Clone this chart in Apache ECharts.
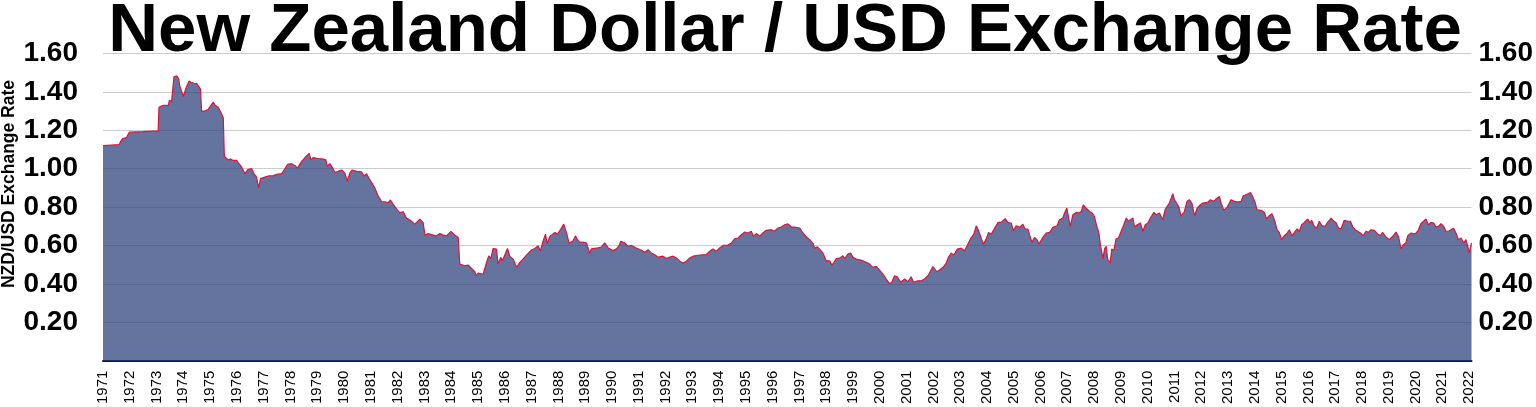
<!DOCTYPE html>
<html>
<head>
<meta charset="utf-8">
<script src="https://cdn.jsdelivr.net/npm/echarts@6/dist/echarts.min.js"></script>
<style>
html,body{margin:0;padding:0;background:#fff;}
#chart{width:1536px;height:407px;}
</style>
</head>
<body>
<div id="chart"></div>
<script>
// Time in decimal years (as placed on the reference's year axis) and NZD/USD rate
const times = [
1971.00,1971.61,1971.66,1971.73,1971.88,1971.98,1972.50,1973.06,1973.09,1973.25,1973.31,1973.44,1973.48,1973.56,1973.62,1973.65,1973.75,1973.82,1973.87,1974.00,
1974.10,1974.21,1974.31,1974.41,1974.50,1974.54,1974.64,1974.68,1974.81,1974.93,1975.03,1975.12,1975.18,1975.30,1975.40,1975.49,1975.53,1975.68,1975.76,1975.86,
1975.99,1976.05,1976.17,1976.30,1976.40,1976.55,1976.65,1976.73,1976.81,1976.88,1977.04,1977.17,1977.36,1977.48,1977.67,1977.77,1977.89,1978.04,1978.16,1978.26,
1978.41,1978.54,1978.60,1978.70,1978.76,1978.85,1979.03,1979.22,1979.32,1979.37,1979.47,1979.59,
1979.66,1979.78,1979.91,1980.03,1980.12,1980.22,1980.30,1980.47,1980.65,1980.75,1980.84,1980.90,1981.03,1981.15,1981.27,1981.40,1981.52,1981.65,1981.73,1981.83,
1981.96,1982.08,1982.21,1982.33,1982.46,1982.64,1982.83,1982.95,1983.02,1983.14,1983.33,1983.45,1983.58,1983.70,1983.82,1983.99,1984.13,1984.26,1984.32,1984.51,
1984.63,1984.76,1984.88,1984.94,1985.00,1985.19,1985.32,1985.40,1985.48,1985.56,1985.69,1985.75,1985.85,1985.91,1986.00,1986.10,1986.19,1986.31,1986.44,1986.56,
1986.68,1986.81,1986.99,1987.12,1987.24,1987.33,1987.43,1987.52,1987.58,1987.68,1987.87,1987.97,1988.09,1988.20,1988.30,1988.40,1988.55,1988.64,
1988.71,1988.80,1988.92,1989.05,1989.13,1989.17,1989.23,1989.30,1989.48,1989.61,1989.73,1989.86,1990.04,1990.17,1990.27,1990.33,1990.48,1990.60,1990.73,1990.79,
1990.91,1991.10,1991.22,1991.35,1991.47,1991.60,1991.72,1991.91,1992.03,1992.16,1992.28,1992.41,1992.53,1992.65,1992.78,1992.90,1993.03,1993.21,1993.40,1993.52,
1993.65,1993.77,1993.90,1994.02,1994.15,1994.33,1994.46,1994.58,1994.71,1994.83,1994.96,1995.08,1995.20,1995.29,1995.39,1995.52,1995.64,1995.76,1995.95,1996.07,
1996.20,1996.32,1996.45,1996.57,1996.70,1996.82,1997.01,1997.13,1997.26,1997.38,1997.51,1997.57,
1997.67,1997.75,1997.88,1998.00,1998.13,1998.21,1998.29,1998.38,1998.50,1998.62,1998.69,1998.81,1998.91,1999.00,1999.12,1999.25,1999.37,1999.49,1999.62,1999.74,
1999.87,1999.99,2000.12,2000.24,2000.37,2000.45,2000.55,2000.65,2000.78,2000.93,2001.05,2001.17,2001.26,2001.42,2001.55,2001.67,2001.80,2001.88,2001.98,2002.04,
2002.13,2002.23,2002.36,2002.48,2002.57,2002.67,2002.77,2002.89,2003.04,2003.16,2003.26,2003.39,2003.51,2003.60,2003.69,2003.79,2003.87,2003.97,2004.06,2004.16,
2004.28,2004.41,2004.53,2004.68,2004.78,2004.91,2004.99,2005.09,2005.22,2005.34,2005.43,2005.53,2005.68,2005.78,2005.88,2005.94,2006.09,2006.21,2006.34,2006.46,
2006.52,2006.62,2006.71,2006.83,2006.90,2006.98,2007.04,2007.11,2007.21,2007.33,2007.42,2007.52,2007.60,2007.70,2007.83,2007.93,2008.01,2008.10,2008.18,2008.24,
2008.33,2008.39,2008.45,2008.51,2008.60,2008.66,2008.74,2008.82,2008.91,2009.01,2009.11,2009.20,2009.28,2009.36,2009.45,2009.51,2009.61,2009.73,2009.82,2009.91,
2010.01,2010.10,2010.23,2010.32,2010.44,2010.56,2010.66,2010.81,2010.88,2010.94,2011.00,2011.06,2011.16,2011.25,2011.37,2011.47,2011.56,2011.65,2011.75,2011.85,
2011.97,2012.06,2012.12,2012.24,2012.34,2012.47,2012.55,2012.68,2012.74,2012.84,2012.97,2013.05,2013.11,2013.24,2013.36,2013.49,2013.57,2013.67,2013.74,2013.84,
2013.92,2014.02,2014.08,2014.23,2014.36,2014.44,2014.54,2014.64,2014.73,2014.83,2014.92,2015.00,2015.10,2015.19,2015.29,2015.38,2015.48,
2015.58,2015.66,2015.75,2015.85,2015.98,2016.06,2016.12,2016.22,2016.31,2016.41,2016.50,2016.62,2016.72,2016.85,2016.95,2017.03,2017.13,2017.22,2017.34,2017.47,
2017.57,2017.66,2017.74,2017.84,2017.94,2018.05,2018.15,2018.24,2018.34,2018.46,2018.59,2018.69,2018.77,2018.90,2019.02,2019.15,2019.27,2019.36,2019.46,2019.54,
2019.64,2019.71,2019.83,2019.93,2020.02,2020.10,2020.20,2020.30,2020.39,2020.48,2020.58,2020.68,2020.76,2020.86,2020.95,2021.05,2021.14,2021.24,2021.32,2021.42,
2021.51,2021.60,2021.70,2021.80,2021.88,2021.95,2022.01,2022.09
];
const rates = [
1.120,1.126,1.143,1.157,1.162,1.190,1.193,1.197,1.320,1.330,1.322,1.330,1.357,1.348,1.354,1.479,1.484,1.470,1.430,1.376,
1.420,1.456,1.448,1.445,1.443,1.446,1.414,1.300,1.300,1.310,1.330,1.347,1.330,1.320,1.294,1.265,1.063,1.046,1.050,1.043,
1.043,1.030,1.010,0.973,0.995,1.000,0.970,0.957,0.900,0.948,0.956,0.962,0.964,0.970,0.974,0.995,1.022,1.026,1.017,1.003,
1.037,1.058,1.063,1.080,1.046,1.058,1.053,1.050,1.046,1.012,1.026,1.000,
0.980,0.986,0.993,0.976,0.936,0.979,0.993,0.986,0.983,0.962,0.974,0.957,0.927,0.900,0.858,0.829,0.827,0.823,0.837,0.815,
0.789,0.771,0.775,0.742,0.733,0.711,0.737,0.720,0.654,0.662,0.654,0.650,0.662,0.654,0.650,0.673,0.654,0.642,0.503,0.494,
0.498,0.480,0.463,0.442,0.456,0.450,0.511,0.546,0.532,0.584,0.581,0.503,0.538,0.520,0.550,0.584,0.543,0.529,0.486,0.512,
0.529,0.550,0.576,0.584,0.598,0.572,0.624,0.659,0.610,0.647,0.668,0.659,0.685,0.711,0.668,0.612,0.624,0.650,
0.630,0.616,0.618,0.613,0.578,0.558,0.582,0.587,0.587,0.592,0.613,0.587,0.573,0.582,0.600,0.622,0.613,0.596,0.600,0.604,
0.587,0.575,0.565,0.578,0.561,0.552,0.539,0.544,0.532,0.540,0.544,0.535,0.518,0.509,0.518,0.535,0.544,0.549,0.551,0.552,
0.570,0.582,0.570,0.587,0.600,0.602,0.613,0.634,0.639,0.656,0.670,0.665,0.674,0.648,0.662,0.648,0.665,0.679,0.682,0.674,
0.691,0.696,0.708,0.712,0.696,0.696,0.691,0.665,0.644,0.630,0.610,0.585,
0.593,0.581,0.560,0.520,0.520,0.498,0.512,0.532,0.534,0.546,0.532,0.555,0.560,0.538,0.529,0.525,0.520,0.512,0.503,0.486,
0.491,0.472,0.451,0.425,0.400,0.408,0.442,0.437,0.408,0.425,0.411,0.437,0.408,0.416,0.416,0.425,0.442,0.463,0.490,0.486,
0.463,0.472,0.486,0.508,0.541,0.560,0.550,0.581,0.586,0.572,0.598,0.636,0.659,0.702,0.676,0.636,0.607,0.633,0.668,0.659,
0.688,0.720,0.720,0.740,0.720,0.715,0.676,0.702,0.694,0.711,0.685,0.685,0.616,0.642,0.628,0.607,0.642,0.664,0.668,0.694,
0.700,0.703,0.734,0.743,0.769,0.795,0.752,0.700,0.760,0.772,0.769,0.777,0.812,0.795,0.777,0.769,0.752,0.700,0.665,0.600,
0.530,0.582,0.596,0.526,0.509,0.582,0.574,0.634,0.639,0.674,0.708,0.743,0.726,0.734,0.743,0.696,0.708,0.717,0.674,0.708,
0.717,0.743,0.772,0.760,0.769,0.734,0.790,0.821,0.830,0.870,0.838,0.847,0.803,0.752,0.777,0.830,0.838,0.821,0.755,0.795,
0.812,0.821,0.826,0.824,0.838,0.830,0.842,0.855,0.821,0.783,0.800,0.821,0.838,0.830,0.826,0.830,0.859,0.864,0.855,0.876,
0.855,0.821,0.786,0.783,0.772,0.738,0.755,0.765,0.734,0.682,0.665,0.630,0.651,0.661,0.682,0.651,0.668,
0.686,0.674,0.708,0.720,0.738,0.717,0.731,0.700,0.690,0.726,0.703,0.700,0.720,0.743,0.726,0.720,0.690,0.686,0.731,0.726,
0.726,0.696,0.682,0.674,0.665,0.651,0.674,0.668,0.682,0.679,0.660,0.651,0.668,0.644,0.630,0.648,0.670,0.648,0.582,0.604,
0.613,0.651,0.665,0.660,0.665,0.679,0.713,0.726,0.738,0.708,0.720,0.717,0.696,0.700,0.713,0.700,0.674,0.674,0.682,0.690,
0.665,0.630,0.639,0.613,0.630,0.596,0.561,0.613
];
const yTicks = [0.2, 0.4, 0.6, 0.8, 1.0, 1.2, 1.4, 1.6];
const titleText = 'New Zealand Dollar / USD Exchange Rate';
const yAxisTitle = 'NZD/USD Exchange Rate';

const seriesData = times.map((t, i) => [t, rates[i]]);
const FONT = '"Liberation Sans", Arial, Helvetica, sans-serif';

const yLabelFmt = v => (yTicks.some(t => Math.abs(t - v) < 1e-6) ? v.toFixed(2) : '');

const chart = echarts.init(document.getElementById('chart'), null, {renderer: 'canvas'});
chart.setOption({
  animation: false,
  backgroundColor: '#ffffff',
  grid: {left: 103, right: 64, top: 53.5, bottom: 45.5, containLabel: false},
  graphic: [
    {type: 'text', x: 785, y: 32, z: 100,
     style: {text: titleText, font: 'bold 69px ' + FONT, fill: '#000', textAlign: 'center', textVerticalAlign: 'middle'}},
    {type: 'text', x: 9, y: 184, rotation: Math.PI / 2, z: 100,
     style: {text: yAxisTitle, font: 'bold 17.5px ' + FONT, fill: '#000', textAlign: 'center', textVerticalAlign: 'middle'}}
  ],
  xAxis: {
    type: 'value', min: 1971, max: 2022.09, interval: 1,
    axisLine: {show: true, onZero: false, lineStyle: {color: '#0d1a45', width: 2}},
    axisTick: {show: false},
    splitLine: {show: false},
    axisLabel: {
      rotate: 90, margin: 10, fontFamily: FONT, fontSize: 15, color: '#000',
      showMaxLabel: false,
      formatter: v => (Math.abs(v - Math.round(v)) < 1e-6 ? String(Math.round(v)) : '')
    }
  },
  yAxis: [
    {type: 'value', min: 0, max: 1.6, interval: 0.2, position: 'left',
     axisLine: {show: false}, axisTick: {show: false},
     splitLine: {show: true, lineStyle: {color: '#cccccc', width: 1}},
     axisLabel: {margin: 25, fontFamily: FONT, fontSize: 28, fontWeight: 'bold', color: '#000', formatter: yLabelFmt}},
    {type: 'value', min: 0, max: 1.6, interval: 0.2, position: 'right',
     axisLine: {show: false}, axisTick: {show: false},
     splitLine: {show: false},
     axisLabel: {margin: 7, fontFamily: FONT, fontSize: 28, fontWeight: 'bold', color: '#000', formatter: yLabelFmt}}
  ],
  series: [{
    type: 'line', data: seriesData, xAxisIndex: 0, yAxisIndex: 0,
    symbol: 'none', showSymbol: false, smooth: false,
    lineStyle: {color: '#dc143c', width: 1.2},
    areaStyle: {color: 'rgb(40,62,120)', opacity: 0.72, origin: 'start'},
    z: 2
  }]
});
</script>
</body>
</html>
